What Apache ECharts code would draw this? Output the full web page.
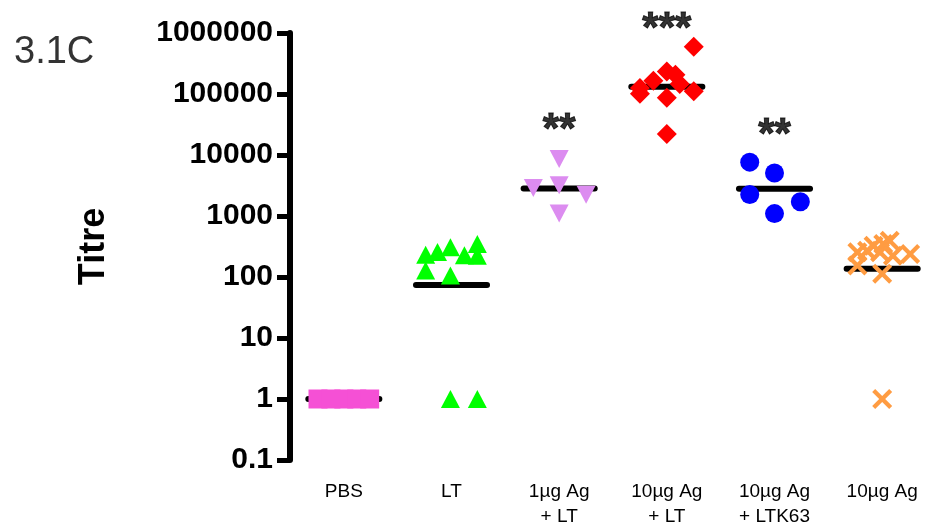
<!DOCTYPE html>
<html>
<head>
<meta charset="utf-8">
<script src="https://cdn.jsdelivr.net/npm/echarts@6/dist/echarts.min.js"></script>
<style>
  html, body { margin: 0; padding: 0; background: #fff; }
  #chart { width: 938px; height: 529px; }
</style>
</head>
<body>
<div id="chart"></div>
<script>
// groups on the x axis
const categories = ['PBS', 'LT', '1µg Ag\n+ LT', '10µg Ag\n+ LT', '10µg Ag\n+ LTK63', '10µg Ag'];

// [group position (with scatter), titre]
const pbsPoints = [[-0.24, 1], [-0.12, 1], [0, 1], [0.12, 1], [0.24, 1]];
const ltPoints = [[0.76, 232], [0.87, 256], [0.99, 307], [1.24, 347], [1.12, 228], [1.24, 222],
                  [0.76, 128], [0.99, 106], [0.99, 1], [1.24, 1]];
const ag1LtPoints = [[2.0, 8570], [1.76, 2890], [2.0, 3180], [2.25, 2230], [2.0, 1094]];
const ag10LtPoints = [[3.25, 597000], [3.0, 234000], [3.08, 207000], [2.875, 165000], [3.12, 146000],
                      [2.75, 126000], [2.75, 100700], [3.25, 111000], [3.0, 86700], [3.0, 22000]];
const ltk63Points = [[3.77, 7640], [4.0, 5070], [3.77, 2250], [4.24, 1713], [4.0, 1094]];
const ag10Points = [[4.77, 255], [4.77, 154], [4.92, 326], [5.01, 347], [5.07, 393], [4.98, 255],
                    [5.10, 224], [5.26, 239], [5.0, 113], [4.86, 270], [5.0, 1]];

// median line per group
const medians = [1, 74, 2820, 132000, 2785, 136];

// significance marks [group, titre, text]
const stars = [[2, 25500, '**'], [3, 1150000, '***'], [4, 21000, '**']];

const yTicks = [0.1, 1, 10, 100, 1000, 10000, 100000, 1000000];

const font = '"Liberation Sans", Arial, sans-serif';
const crossPath = 'path://M3,0 L10,7 L17,0 L20,3 L13,10 L20,17 L17,20 L10,13 L3,20 L0,17 L7,10 L0,3 Z';

const chart = echarts.init(document.getElementById('chart'));

function dots(name, data, symbol, size, color, rotate) {
    return {
        name: name,
        type: 'scatter',
        xAxisIndex: 1,
        yAxisIndex: 0,
        data: data,
        symbol: symbol,
        symbolSize: size,
        symbolRotate: rotate || 0,
        itemStyle: { color: color, opacity: 1 },
        z: 3,
        silent: true
    };
}

const option = {
    animation: false,
    textStyle: { fontFamily: font },
    title: {
        text: '3.1C',
        left: 9,
        top: 29,
        textStyle: { fontSize: 38, fontWeight: 'normal', color: '#333', fontFamily: font }
    },
    grid: { left: 290, right: 2, top: 33, bottom: 64, containLabel: false },
    xAxis: [
        {
            type: 'category',
            data: categories,
            boundaryGap: true,
            axisLine: { show: false },
            axisTick: { show: false },
            axisLabel: { color: '#000', fontSize: 19, lineHeight: 25, margin: 19, interval: 0, fontFamily: font }
        },
        {
            type: 'value',
            min: -0.5,
            max: 5.5,
            show: false
        }
    ],
    yAxis: {
        type: 'log',
        logBase: 10,
        min: yTicks[0],
        max: yTicks[yTicks.length - 1],
        splitNumber: yTicks.length - 1,
        name: 'Titre',
        nameLocation: 'middle',
        nameGap: 178,
        nameTextStyle: { fontSize: 36, fontWeight: 'bold', color: '#000', fontFamily: font },
        axisLine: { show: true, onZero: false, lineStyle: { color: '#000', width: 6 } },
        axisTick: { show: true, length: 13, lineStyle: { color: '#000', width: 5 } },
        splitLine: { show: false },
        axisLabel: {
            color: '#000',
            fontSize: 30,
            fontWeight: 'bold',
            margin: 17,
            fontFamily: font,
            formatter: v => String(+Number(v).toPrecision(6))
        }
    },
    series: [
        {
            type: 'custom',
            xAxisIndex: 1,
            yAxisIndex: 0,
            data: medians.map((m, i) => [i, m]),
            z: 2,
            silent: true,
            renderItem: function (params, api) {
                const i = api.value(0);
                const m = api.value(1);
                const a = api.coord([i - 0.33, m]);
                const b = api.coord([i + 0.33, m]);
                return {
                    type: 'line',
                    shape: { x1: a[0], y1: a[1], x2: b[0], y2: b[1] },
                    style: { stroke: '#000', lineWidth: 6, lineCap: 'round' }
                };
            }
        },
        dots('PBS', pbsPoints, 'rect', 19, '#f550d5'),
        dots('LT', ltPoints, 'triangle', [19, 18], '#00ff00'),
        dots('1µg Ag + LT', ag1LtPoints, 'triangle', [19, 18], '#dc8cf0', 180),
        dots('10µg Ag + LT', ag10LtPoints, 'diamond', 20, '#ff0000'),
        dots('10µg Ag + LTK63', ltk63Points, 'circle', 19, '#0000ff'),
        dots('10µg Ag', ag10Points, crossPath, 20, '#ff9c42'),
        {
            type: 'scatter',
            xAxisIndex: 1,
            yAxisIndex: 0,
            clip: false,
            symbolSize: 0,
            silent: true,
            z: 4,
            data: stars.map(s => ({ value: [s[0], s[1]], name: s[2] })),
            label: {
                show: true,
                position: 'inside',
                formatter: p => p.name,
                color: '#000',
                textBorderColor: '#000',
                textBorderWidth: 1,
                fontSize: 42,
                fontWeight: 'bold',
                fontFamily: font
            }
        }
    ]
};

chart.setOption(option);
</script>
</body>
</html>
